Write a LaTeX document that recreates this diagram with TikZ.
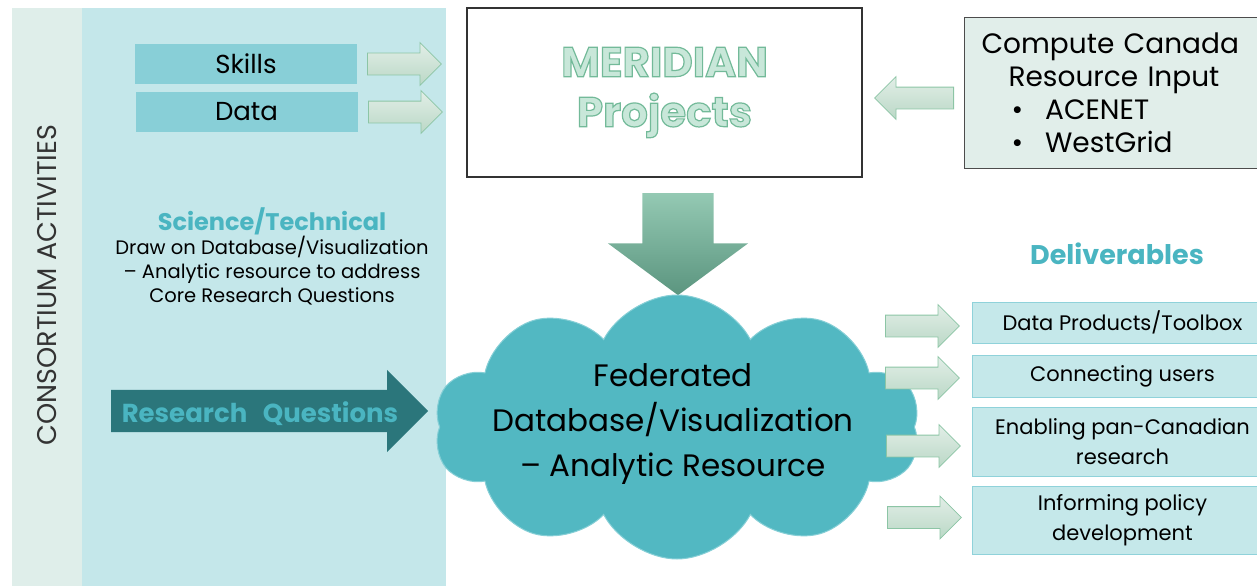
\documentclass[tikz,border=0pt]{standalone}
\usepackage{fontspec}
\setmainfont{Poppins}
\usetikzlibrary{shapes.arrows,shapes.symbols,positioning}

% outlined letters (fill and stroke)
\newcommand{\outlined}[1]{\special{pdf:literal direct 2 Tr 1.2 w 0.45 0.73 0.60 RG}#1\special{pdf:literal direct 0 Tr}}

\begin{document}
\begin{tikzpicture}[x=1pt, y=-1pt,
    tagbox/.style={fill=tagfill, minimum width=222pt, minimum height=40pt, inner sep=0pt, font=\fontsize{26}{30}\selectfont},
    feedarrow/.style={single arrow, draw=arrowedge, line width=0.8pt, top color=arrowtop, bottom color=arrowbot, inner sep=10.5pt, single arrow head extend=10.5pt, minimum height=74pt, anchor=tail},
    outbox/.style={fill=outfill, draw=outedge, line width=1pt, minimum width=300pt, inner sep=0pt, anchor=west, align=center, font=\fontsize{21}{30}\selectfont},
    heading/.style={text=headteal, font=\bfseries\fontsize{24}{28}\selectfont}]

      % Define colors
      \definecolor{stripfill}{HTML}{DFEEEA}
      \definecolor{panelfill}{HTML}{C4E7EA}
      \definecolor{tagfill}{HTML}{88CFD7}
      \definecolor{arrowedge}{HTML}{8CC5A5}
      \definecolor{arrowtop}{HTML}{E2EEE7}
      \definecolor{arrowbot}{HTML}{BAD8C6}
      \definecolor{meridfill}{HTML}{C8E7D9}
      \definecolor{ccfill}{HTML}{E1EEEA}
      \definecolor{downtop}{HTML}{94C9B3}
      \definecolor{downbot}{HTML}{5B957F}
      \definecolor{headteal}{HTML}{4AB5C1}
      \definecolor{rqfill}{HTML}{2B767B}
      \definecolor{cloudfill}{HTML}{52B8C2}
      \definecolor{cloudedge}{HTML}{86CFD6}
      \definecolor{outfill}{HTML}{C5E8EA}
      \definecolor{outedge}{HTML}{8FD2DA}

      \useasboundingbox (0,0) rectangle (1257,586);

      % Background panels
      \fill[stripfill] (12,8) rectangle (82,586);
      \fill[panelfill] (82,8) rectangle (446,586);

      % Side title
      \node[rotate=90, text=black!80, font=\fontsize{27}{30}\selectfont] (consort) at (47,285) {CONSORTIUM ACTIVITIES};

      % Inputs
      \node[tagbox] (skills) at (246,64) {Skills};
      \node[tagbox] (data) at (246.5,112) {Data};
      \node[feedarrow] (skillsarrow) at (367,64) {};
      \node[feedarrow] (dataarrow) at (368,112) {};

      % MERIDIAN projects
      \node[draw=black!80, line width=1.2pt, fill=white, minimum width=395pt, minimum height=169pt, align=center, text=meridfill, font=\bfseries\fontsize{42}{50}\selectfont] (meridian) at (664.5,92.5) {\outlined{MERIDIAN}\\\outlined{Projects}};

      % Compute Canada input
      \node[draw=black!70, line width=1.2pt, fill=ccfill, text width=276pt, minimum height=151pt, inner xsep=17pt, anchor=north west, align=left, font=\fontsize{28}{33}\selectfont] (compute) at (964,17) {Compute Canada\\\hspace*{27pt}Resource Input\\\hspace*{30pt}\textbullet\hspace{22pt}ACENET\\\hspace*{30pt}\textbullet\hspace{22pt}WestGrid};
      \node[feedarrow, shape border rotate=180, minimum height=79pt] (ccarrow) at (954,98) {};

      % Down arrow
      \node[single arrow, shape border rotate=270, anchor=tail, top color=downtop, bottom color=downbot, inner sep=35.5pt, single arrow head extend=34.5pt, single arrow tip angle=107, minimum height=102pt] (downarrow) at (678,193) {};

      % Science/Technical
      \node[heading] (scitech) at (272,221) {Science/Technical};
      \node[align=center, font=\fontsize{19.5}{24}\selectfont] (scibody) at (272,271) {Draw on Database/Visualization\\– Analytic resource to address\\Core Research Questions};

      % Research questions
      \node[single arrow, fill=rqfill, anchor=tail, inner sep=21pt, single arrow head extend=20pt, minimum height=317pt] (rqarrow) at (111,411) {};
      \node[heading, font=\bfseries\fontsize{26}{28}\selectfont] (rqlabel) at (260,414) {Research\hspace{0.6em}Questions};

      % Cloud
      \node[cloud, cloud puffs=10, cloud puff arc=125, cloud ignores aspect, fill=cloudfill, draw=cloudedge, line width=1pt, inner sep=0pt, minimum width=486pt, minimum height=264pt] (cloud) at (677,427) {};
      \node[align=center, font=\fontsize{31}{45}\selectfont] (cloudtext) at (673,424) {Federated\\Database/Visualization\\– Analytic Resource};

      % Deliverables
      \node[heading, font=\bfseries\fontsize{27}{28}\selectfont] (deliver) at (1117,254) {Deliverables};
      \node[outbox, minimum height=41pt] (products) at (972,322.5) {Data Products/Toolbox};
      \node[outbox, minimum height=42pt] (connect) at (972,376) {Connecting users};
      \node[outbox, minimum height=69pt] (enable) at (972,441.5) {Enabling pan-Canadian\\research};
      \node[outbox, minimum height=68pt] (inform) at (972,520) {Informing policy\\development};

      % Output arrows
      \node[feedarrow] (productsarrow) at (885,326) {};
      \node[feedarrow] (connectarrow) at (885,378) {};
      \node[feedarrow] (enablearrow) at (886,446) {};
      \node[feedarrow] (informarrow) at (887,517.5) {};

\end{tikzpicture}
\end{document}
